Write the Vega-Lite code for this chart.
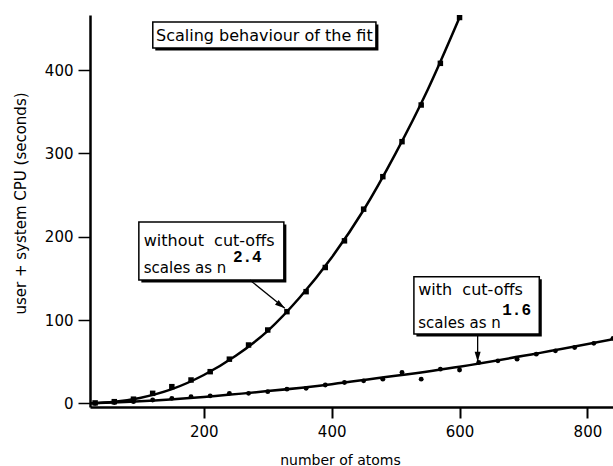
{
  "$schema": "https://vega.github.io/schema/vega-lite/v6.json",
  "width": 523,
  "height": 392,
  "autosize": {"type": "none"},
  "padding": {"left": 90, "top": 15, "right": 0, "bottom": 59},
  "background": "white",
  "config": {"view": {"stroke": null}, "font": "DejaVu Sans"},
  "datasets": {
    "pts_without": [
      {"atoms": 30, "cpu": 0.5}, {"atoms": 60, "cpu": 2}, {"atoms": 90, "cpu": 5}, {"atoms": 120, "cpu": 12},
      {"atoms": 150, "cpu": 20}, {"atoms": 180, "cpu": 28}, {"atoms": 210, "cpu": 38}, {"atoms": 240, "cpu": 53},
      {"atoms": 270, "cpu": 70}, {"atoms": 300, "cpu": 88}, {"atoms": 330, "cpu": 110}, {"atoms": 360, "cpu": 134},
      {"atoms": 390, "cpu": 163}, {"atoms": 420, "cpu": 195}, {"atoms": 450, "cpu": 233}, {"atoms": 480, "cpu": 272},
      {"atoms": 510, "cpu": 314}, {"atoms": 540, "cpu": 358}, {"atoms": 570, "cpu": 408}, {"atoms": 600, "cpu": 463}
    ],
    "pts_with": [
      {"atoms": 30, "cpu": 0}, {"atoms": 60, "cpu": 1}, {"atoms": 90, "cpu": 2}, {"atoms": 120, "cpu": 4},
      {"atoms": 150, "cpu": 6}, {"atoms": 180, "cpu": 8}, {"atoms": 210, "cpu": 9}, {"atoms": 240, "cpu": 12},
      {"atoms": 270, "cpu": 12}, {"atoms": 300, "cpu": 14}, {"atoms": 330, "cpu": 17}, {"atoms": 360, "cpu": 18},
      {"atoms": 390, "cpu": 22}, {"atoms": 420, "cpu": 25}, {"atoms": 450, "cpu": 27}, {"atoms": 480, "cpu": 29},
      {"atoms": 510, "cpu": 37}, {"atoms": 540, "cpu": 29}, {"atoms": 570, "cpu": 41}, {"atoms": 600, "cpu": 40},
      {"atoms": 630, "cpu": 49}, {"atoms": 660, "cpu": 51}, {"atoms": 690, "cpu": 53}, {"atoms": 720, "cpu": 59},
      {"atoms": 750, "cpu": 63}, {"atoms": 780, "cpu": 67}, {"atoms": 810, "cpu": 72}, {"atoms": 840, "cpu": 78}
    ],
    "fits": [
      {"series": "without", "atoms": 22, "cpu": 0}, {"series": "without", "atoms": 60, "cpu": 1.8},
      {"series": "without", "atoms": 100, "cpu": 6.5}, {"series": "without", "atoms": 150, "cpu": 17},
      {"series": "without", "atoms": 200, "cpu": 34}, {"series": "without", "atoms": 250, "cpu": 57},
      {"series": "without", "atoms": 300, "cpu": 87}, {"series": "without", "atoms": 350, "cpu": 127},
      {"series": "without", "atoms": 400, "cpu": 175}, {"series": "without", "atoms": 450, "cpu": 232},
      {"series": "without", "atoms": 500, "cpu": 300}, {"series": "without", "atoms": 550, "cpu": 376},
      {"series": "without", "atoms": 600, "cpu": 463},
      {"series": "with", "atoms": 22, "cpu": 0}, {"series": "with", "atoms": 100, "cpu": 2.5},
      {"series": "with", "atoms": 200, "cpu": 7.7}, {"series": "with", "atoms": 300, "cpu": 14.7},
      {"series": "with", "atoms": 400, "cpu": 23}, {"series": "with", "atoms": 500, "cpu": 33},
      {"series": "with", "atoms": 600, "cpu": 44}, {"series": "with", "atoms": 700, "cpu": 57},
      {"series": "with", "atoms": 840, "cpu": 77}
    ],
    "boxes": [
      {"x1": 120.2, "x2": 469.2, "y1": 457.7, "y2": 426.5},
      {"x1": 98.4, "x2": 325.2, "y1": 217.6, "y2": 148},
      {"x1": 528.6, "x2": 724.7, "y1": 152, "y2": 83.2}
    ],
    "arrows": [
      {"x1": 272, "y1": 148, "x2": 326.7, "y2": 114},
      {"x1": 628.3, "y1": 83.2, "x2": 628.3, "y2": 50}
    ]
  },
  "encoding": {
    "x": {"type": "quantitative", "scale": {"domain": [22, 840], "nice": false, "zero": false}},
    "y": {"type": "quantitative", "scale": {"domain": [-4.4, 466], "nice": false, "zero": false}}
  },
  "layer": [
    {
      "data": {"name": "fits"},
      "mark": {"type": "line", "color": "black", "strokeWidth": 2.5, "interpolate": "monotone", "clip": true},
      "encoding": {
        "x": {"field": "atoms", "type": "quantitative",
          "axis": {"title": "number of atoms", "values": [200, 400, 600, 800], "grid": false,
            "domainColor": "black", "domainWidth": 2.5, "tickColor": "black", "tickWidth": 2, "tickSize": 11,
            "labelFont": "DejaVu Sans", "labelFontSize": 15, "labelColor": "black", "labelPadding": 6,
            "titleFont": "DejaVu Sans", "titleFontSize": 14, "titleFontWeight": "normal", "titleColor": "black",
            "titleX": 250, "titleY": 53, "titleBaseline": "middle", "titleAlign": "center"}},
        "y": {"field": "cpu", "type": "quantitative",
          "axis": {"title": "user + system CPU (seconds)", "values": [0, 100, 200, 300, 400], "grid": false,
            "domainColor": "black", "domainWidth": 2.5, "tickColor": "black", "tickWidth": 1.5, "tickSize": 12,
            "labelFont": "DejaVu Sans", "labelFontSize": 15, "labelColor": "black", "labelPadding": 5,
            "titleFont": "DejaVu Sans", "titleFontSize": 15, "titleFontWeight": "normal", "titleColor": "black",
            "titleX": -70, "titleY": 188, "titleAngle": -90, "titleBaseline": "middle", "titleAlign": "center"}},
        "detail": {"field": "series"}
      }
    },
    {
      "data": {"name": "pts_without"},
      "mark": {"type": "square", "color": "black", "filled": true, "opacity": 1, "size": 30, "clip": true},
      "encoding": {"x": {"field": "atoms", "type": "quantitative"}, "y": {"field": "cpu", "type": "quantitative"}}
    },
    {
      "data": {"name": "pts_with"},
      "mark": {"type": "circle", "color": "black", "opacity": 1, "size": 24, "clip": true},
      "encoding": {"x": {"field": "atoms", "type": "quantitative"}, "y": {"field": "cpu", "type": "quantitative"}}
    },
    {
      "data": {"name": "boxes"},
      "mark": {"type": "rect", "fill": "black", "xOffset": 2.5, "yOffset": 2.5, "x2Offset": 2.5, "y2Offset": 2.5},
      "encoding": {
        "x": {"field": "x1", "type": "quantitative"}, "x2": {"field": "x2"},
        "y": {"field": "y1", "type": "quantitative"}, "y2": {"field": "y2"}
      }
    },
    {
      "data": {"name": "boxes"},
      "mark": {"type": "rect", "fill": "white", "stroke": "black", "strokeWidth": 1.5},
      "encoding": {
        "x": {"field": "x1", "type": "quantitative"}, "x2": {"field": "x2"},
        "y": {"field": "y1", "type": "quantitative"}, "y2": {"field": "y2"}
      }
    },
    {
      "data": {"values": [{"x": 294.7, "y": 441, "t": "Scaling behaviour of the fit"}]},
      "mark": {"type": "text", "font": "DejaVu Sans", "fontSize": 16, "align": "center", "baseline": "middle", "color": "black"},
      "encoding": {"x": {"field": "x", "type": "quantitative"}, "y": {"field": "y", "type": "quantitative"}, "text": {"field": "t"}}
    },
    {
      "data": {"values": [
        {"x": 106.1, "y": 195.2, "t": "without\u00a0\u00a0cut-offs"},
        {"x": 535.4, "y": 136, "t": "with\u00a0\u00a0cut-offs"}
      ]},
      "mark": {"type": "text", "font": "DejaVu Sans", "fontSize": 16, "align": "left", "baseline": "middle", "color": "black"},
      "encoding": {"x": {"field": "x", "type": "quantitative"}, "y": {"field": "y", "type": "quantitative"}, "text": {"field": "t"}}
    },
    {
      "data": {"values": [
        {"x": 106.1, "y": 162, "t": "scales as n"},
        {"x": 535.4, "y": 96.8, "t": "scales as n"}
      ]},
      "mark": {"type": "text", "font": "DejaVu Sans", "fontSize": 15, "align": "left", "baseline": "middle", "color": "black"},
      "encoding": {"x": {"field": "x", "type": "quantitative"}, "y": {"field": "y", "type": "quantitative"}, "text": {"field": "t"}}
    },
    {
      "data": {"values": [
        {"x": 268, "y": 175.6, "t": "2.4"},
        {"x": 689.3, "y": 112.6, "t": "1.6"}
      ]},
      "mark": {"type": "text", "font": "Liberation Mono", "fontWeight": "bold", "fontSize": 16, "align": "center", "baseline": "middle", "color": "black"},
      "encoding": {"x": {"field": "x", "type": "quantitative"}, "y": {"field": "y", "type": "quantitative"}, "text": {"field": "t"}}
    },
    {
      "data": {"name": "arrows"},
      "mark": {"type": "rule", "color": "black", "strokeWidth": 1.3},
      "encoding": {
        "x": {"field": "x1", "type": "quantitative"}, "x2": {"field": "x2"},
        "y": {"field": "y1", "type": "quantitative"}, "y2": {"field": "y2"}
      }
    },
    {
      "data": {"values": [{"x": 326.7, "y": 114}]},
      "mark": {"type": "point", "shape": "M0,0L-1,-0.3L-1,0.3Z", "filled": true, "color": "black", "opacity": 1, "size": 400, "angle": 37},
      "encoding": {"x": {"field": "x", "type": "quantitative"}, "y": {"field": "y", "type": "quantitative"}}
    },
    {
      "data": {"values": [{"x": 628.3, "y": 50}]},
      "mark": {"type": "point", "shape": "M0,0L-1,-0.3L-1,0.3Z", "filled": true, "color": "black", "opacity": 1, "size": 400, "angle": 90},
      "encoding": {"x": {"field": "x", "type": "quantitative"}, "y": {"field": "y", "type": "quantitative"}}
    }
  ]
}
